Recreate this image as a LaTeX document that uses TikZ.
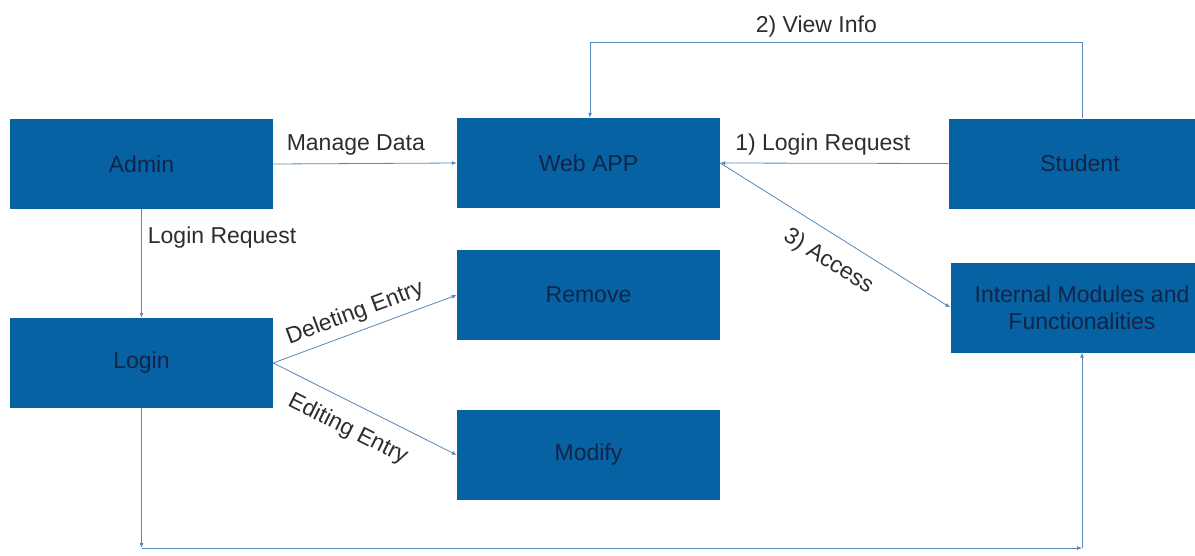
\documentclass[tikz,border=0pt]{standalone}
\usepackage{fontspec}
\setmainfont{Liberation Sans}
\usetikzlibrary{arrows.meta}
\definecolor{boxblue}{RGB}{6,98,163}
\definecolor{boxtext}{RGB}{18,36,72}
\definecolor{linkline}{RGB}{86,136,184}
\definecolor{labelgray}{RGB}{45,45,45}
\begin{document}
\begin{tikzpicture}[x=1pt, y=-1pt,
  block/.style={fill=boxblue, draw=none, minimum width=263pt, minimum height=90pt,
    text=boxtext, font=\fontsize{23}{27}\selectfont, align=center, inner sep=0pt},
  link/.style={draw=linkline, line width=0.8pt, -{Latex[length=5pt,width=4pt]}},
  lbl/.style={text=labelgray, font=\fontsize{23}{27}\selectfont, inner sep=1pt}] % {{{
\useasboundingbox (0,0) rectangle (1195,555);
% Bloques   {{{
\node[block] (admin)    at (141.5,164)  {Admin};
\node[block] (webapp)   at (588.5,163)  {Web APP};
\node[block] (student)  at (1080,163.5) {Student};
\node[block] (remove)   at (588.5,295)  {Remove};
\node[block] (login)    at (141.5,363)  {Login};
\node[block] (modify)   at (588.5,455)  {Modify};
\node[block] (internal) at (1082,307.5) {Internal Modules and\\Functionalities};
% }}}
% Puntos de quiebre {{{
\coordinate (infoR) at (1082,42);
\coordinate (infoL) at (590,42);
\coordinate (loopL) at (141.5,548);
\coordinate (loopR) at (1082,548);
% }}}
% Admin {{{
\draw[link] (admin.east) -- node[lbl, above=7pt, pos=0.45] (lblmanage) {Manage Data} (webapp.west);
\draw[link] (admin.south) -- node[lbl, right=5pt, pos=0.26] (lbladminlogin) {Login Request} (login.north);
% }}}
% Student {{{
\draw[link] (student.west) -- node[lbl, above=7pt, pos=0.55] (lblstudentlogin) {1) Login Request} (webapp.east);
\draw[link] (infoR |- student.north) -- (infoR) -- node[lbl, above=3pt, pos=0.54] (lblview) {2) View Info} (infoL) -- (infoL |- webapp.north);
\draw[link] (webapp.east) -- node[lbl, sloped, below=14pt, pos=0.53] (lblaccess) {3) Access} (internal.west);
% }}}
% Login {{{
\draw[link] (login.east) -- node[lbl, sloped, above=6pt, pos=0.48] (lbldelete) {Deleting Entry} (remove.west);
\draw[link] (login.east) -- node[lbl, sloped, below=14pt, pos=0.47] (lbledit) {Editing Entry} (modify.west);
\draw[link] (login.south) -- (loopL);
\draw[link] (loopL) -- (loopR);
\draw[link] (loopR) -- (internal.south);
% }}}
\end{tikzpicture} % }}}
\end{document}
